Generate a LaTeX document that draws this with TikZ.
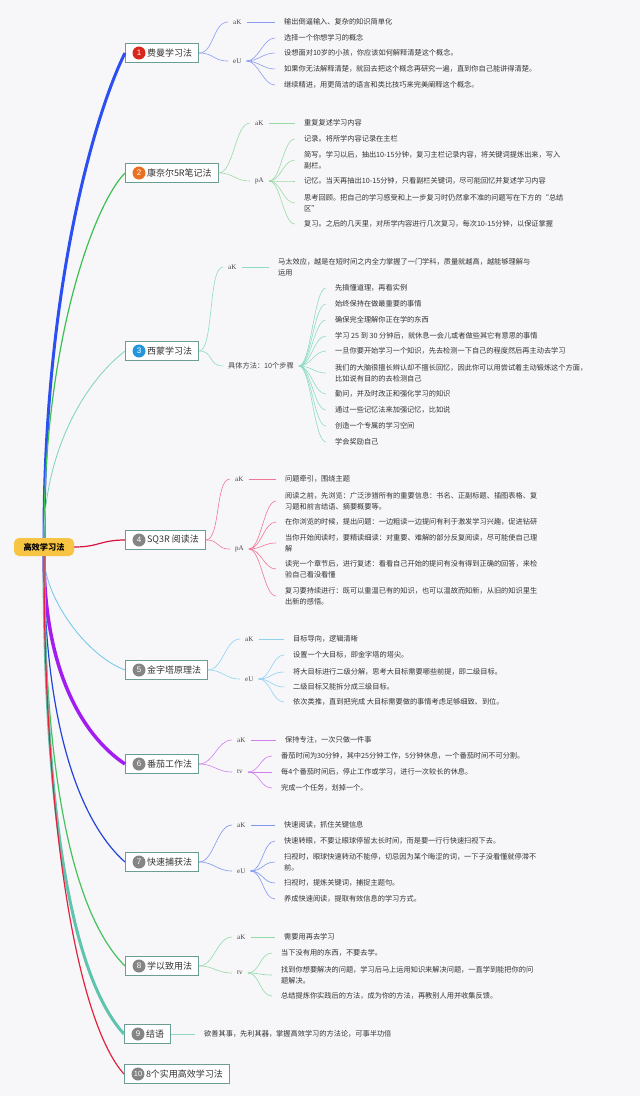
\documentclass[tikz,border=0pt]{standalone}
\usepackage{fontspec}
\setmainfont{Noto Sans CJK SC}
\newfontfamily\labfont{Liberation Serif}
\newfontfamily\numfont{Liberation Sans}
\usepackage{tikz}
\usetikzlibrary{positioning}

\definecolor{bgc}{HTML}{F7F7F9}
\definecolor{rooty}{HTML}{F8C443}
\definecolor{boxc}{HTML}{6A9E94}
\definecolor{txt}{HTML}{333333}
\definecolor{labtxt}{HTML}{444444}
\definecolor{nred}{HTML}{D8261C}
\definecolor{norange}{HTML}{E8701E}
\definecolor{nblue}{HTML}{2596DC}
\definecolor{ngray}{HTML}{858585}
\definecolor{bFey}{HTML}{2B4FF0}
\definecolor{bCor}{HTML}{3CC04F}
\definecolor{bSim}{HTML}{7DD3B8}
\definecolor{bSq}{HTML}{D4163D}
\definecolor{bPyr}{HTML}{6CC6EE}
\definecolor{bTom}{HTML}{A31DF0}
\definecolor{bSpd}{HTML}{2244DD}
\definecolor{bApp}{HTML}{45C35A}
\definecolor{bEnd}{HTML}{5FC3AE}
\definecolor{bTen}{HTML}{E3223F}
\definecolor{sFey}{HTML}{8A9CF2}
\definecolor{sCor}{HTML}{9ADBA4}
\definecolor{sSim}{HTML}{8FDCC4}
\definecolor{sSq}{HTML}{F07896}
\definecolor{sPyr}{HTML}{8ED3F2}
\definecolor{sTom}{HTML}{D27DF2}
\definecolor{sSpd}{HTML}{7E96F0}
\definecolor{sApp}{HTML}{8FDCA8}
\definecolor{sEnd}{HTML}{8FD6C6}

\begin{document}
\begin{tikzpicture}[x=1pt, y=-1pt,
    root/.style={rectangle, rounded corners=5pt, fill=rooty, text=black,
                 font=\bfseries\fontsize{8.2}{10}\selectfont, minimum width=60pt, minimum height=18pt, inner sep=0pt},
    topic/.style={rectangle, anchor=west, draw=boxc, line width=1pt, fill=white, text=txt,
                  font=\fontsize{9}{11}\selectfont, minimum height=19pt, inner xsep=6.5pt, inner ysep=0pt},
    numc/.style={circle, fill=#1, text=white, font=\numfont\fontsize{8}{8}\selectfont,
                 minimum size=13pt, inner sep=0pt},
    lab/.style={anchor=west, text=labtxt, font=\labfont\fontsize{7}{9}\selectfont, inner xsep=5pt, inner ysep=1pt},
    leaf/.style={anchor=west, align=left, text=txt, font=\fontsize{7.2}{11}\selectfont, inner xsep=9pt, inner ysep=1pt},
    main/.style={draw=#1, line width=1.2pt},
    sub/.style={draw=#1, line width=0.6pt},
    xcurve/.style={out=0, in=180, distance=#1},
]
\fill[bgc] (0,0) rectangle (640,1096);
\useasboundingbox (0,0) rectangle (640,1096);

\node[root] (root) at (44,547) {高效学习法};

\node[topic] (t1) at (125,53) {\hspace*{15pt}费曼学习法};
\node[topic] (t2) at (125,173) {\hspace*{15pt}康奈尔5R笔记法};
\node[topic] (t3) at (125,351) {\hspace*{15pt}西蒙学习法};
\node[topic] (t4) at (125,540) {\hspace*{15pt}SQ3R 阅读法};
\node[topic] (t5) at (125,670) {\hspace*{15pt}金字塔原理法};
\node[topic] (t6) at (125,764) {\hspace*{15pt}番茄工作法};
\node[topic] (t7) at (125,862) {\hspace*{15pt}快速捕获法};
\node[topic] (t8) at (125,966) {\hspace*{15pt}学以致用法};
\node[topic] (t9) at (124,1034) {\hspace*{15pt}结语};
\node[topic] (t10) at (124,1074) {\hspace*{15pt}8个实用高效学习法};

\node[numc=nred] (n1) at ([xshift=14pt]t1.west) {1};
\node[numc=norange] (n2) at ([xshift=14pt]t2.west) {2};
\node[numc=nblue] (n3) at ([xshift=14pt]t3.west) {3};
\node[numc=ngray] (n4) at ([xshift=14pt]t4.west) {4};
\node[numc=ngray] (n5) at ([xshift=14pt]t5.west) {5};
\node[numc=ngray] (n6) at ([xshift=14pt]t6.west) {6};
\node[numc=ngray] (n7) at ([xshift=14pt]t7.west) {7};
\node[numc=ngray] (n8) at ([xshift=14pt]t8.west) {8};
\node[numc=ngray] (n9) at ([xshift=14pt]t9.west) {9};
\node[numc=ngray, font=\numfont\fontsize{7.5}{8}\selectfont] (n10) at ([xshift=14pt]t10.west) {10};

\draw[main=bFey, line width=3pt] (root.north) .. controls +(0,-250) and +(-30,60) .. (t1.west);
\draw[main=bCor] (root.north) .. controls +(0,-200) and +(-30,30) .. (t2.west);
\draw[main=bSim, line width=0.8pt] (root.north) .. controls +(0,-80) and +(-45,35) .. (t3.west);
\draw[main=bSq] (root.east) .. controls +(25,0) and +(-25,0) .. (t4.west);
\draw[main=bPyr, line width=0.8pt] (root.south) .. controls +(0,40) and +(-40,-15) .. (t5.west);
\draw[main=bTom, line width=3.5pt] (root.south) .. controls +(0,110) and +(-45,-30) .. (t6.west);
\draw[main=bSpd] (root.south) .. controls +(0,170) and +(-45,-40) .. (t7.west);
\draw[main=bApp] (root.south) .. controls +(0,230) and +(-50,-50) .. (t8.west);
\draw[main=bEnd, line width=3pt] (root.south) .. controls +(0,270) and +(-50,-55) .. (t9.west);
\draw[main=bTen] (root.south) .. controls +(0,280) and +(-45,-50) .. (t10.west);

% 费曼学习法
\node[lab] (l1a) at (228,22) {aK};
\node[lab] (l1b) at (228,61) {eU};
\node[leaf] (f1a) at (275,22) {输出倒逼输入、复杂的知识简单化};
\node[leaf] (f1b) at (275,38) {选择一个你想学习的概念};
\node[leaf] (f1c) at (275,53) {设想面对10岁的小孩，你应该如何解释清楚这个概念。};
\node[leaf] (f1d) at (275,69) {如果你无法解释清楚，就回去把这个概念再研究一遍，直到你自己能讲得清楚。};
\node[leaf] (f1e) at (275,85) {继续精进，用更简洁的语言和类比技巧来完美阐释这个概念。};
\draw[sub=sFey] (t1.east) to[xcurve=15pt] (l1a.west);
\draw[sub=sFey] (t1.east) to[xcurve=15pt] (l1b.west);
\draw[sub=sFey] (l1a.east) -- (f1a.west);
\foreach \f in {f1b,f1c,f1d,f1e}
  \draw[sub=sFey] (l1b.east) to[xcurve=12pt] (\f.west);

% 康奈尔5R笔记法
\node[lab] (l2a) at (250,123) {aK};
\node[lab] (l2b) at (250,181) {pA};
\node[leaf] (f2a) at (295,123) {重复复述学习内容};
\node[leaf] (f2b) at (295,139) {记录。将所学内容记录在主栏};
\node[leaf] (f2c) at (295,160) {简写。学习以后，抽出10-15分钟，复习主栏记录内容，将关键词提炼出来，写入\\副栏。};
\node[leaf] (f2d) at (295,181) {记忆。当天再抽出10-15分钟，只看副栏关键词，尽可能回忆并复述学习内容};
\node[leaf] (f2e) at (295,203) {思考回顾。把自己的学习感受和上一步复习时仍然拿不准的问题写在下方的“总结\\区”};
\node[leaf] (f2f) at (295,224) {复习。之后的几天里，对所学内容进行几次复习，每次10-15分钟，以保证掌握};
\draw[sub=sCor] (t2.east) to[xcurve=15pt] (l2a.west);
\draw[sub=sCor] (t2.east) to[xcurve=15pt] (l2b.west);
\draw[sub=sCor] (l2a.east) -- (f2a.west);
\foreach \f in {f2b,f2c,f2d,f2e,f2f}
  \draw[sub=sCor] (l2b.east) to[xcurve=12pt] (\f.west);

% 西蒙学习法
\node[lab] (l3a) at (223,267) {aK};
\node[lab, font=\fontsize{7.2}{9}\selectfont] (l3b) at (223,366) {具体方法：10个步骤};
\node[leaf] (f3a) at (269,267) {马太效应，越是在短时间之内全力掌握了一门学科，质量就越高，越能够理解与\\运用};
\node[leaf] (f3b) at (326,288) {先搞懂道理，再看实例};
\node[leaf] (f3c) at (326,304) {始终保持在做最重要的事情};
\node[leaf] (f3d) at (326,320) {确保完全理解你正在学的东西};
\node[leaf] (f3e) at (326,336) {学习 25 到 30 分钟后，就休息一会儿或者做些其它有意思的事情};
\node[leaf] (f3f) at (326,351) {一旦你要开始学习一个知识，先去检测一下自己的程度然后再主动去学习};
\node[leaf] (f3g) at (326,373) {我们的大脑很擅长辨认却不擅长回忆，因此你可以用尝试着主动锻炼这个方面，\\比如说有目的的去检测自己};
\node[leaf] (f3h) at (326,394) {勤问，并及时改正和强化学习的知识};
\node[leaf] (f3i) at (326,410) {通过一些记忆法来加强记忆，比如说};
\node[leaf] (f3j) at (326,426) {创造一个专属的学习空间};
\node[leaf] (f3k) at (326,442) {学会奖励自己};
\draw[sub=sSim] (t3.east) to[xcurve=15pt] (l3a.west);
\draw[sub=sSim] (t3.east) to[xcurve=15pt] (l3b.west);
\draw[sub=sSim] (l3a.east) -- (f3a.west);
\foreach \f in {f3b,f3c,f3d,f3e,f3f,f3g,f3h,f3i,f3j,f3k}
  \draw[sub=sSim] (l3b.east) to[xcurve=12pt] (\f.west);

% SQ3R 阅读法
\node[lab] (l4a) at (230,479) {aK};
\node[lab] (l4b) at (230,549) {pA};
\node[leaf] (f4a) at (276,479) {问题牵引，围绕主题};
\node[leaf] (f4b) at (276,501) {阅读之前，先浏览：广泛涉猎所有的重要信息：书名、正副标题、插图表格、复\\习题和前言结语、摘要概要等。};
\node[leaf] (f4c) at (276,522) {在你浏览的时候，提出问题：一边粗读一边提问有利于激发学习兴趣，促进钻研};
\node[leaf] (f4d) at (276,543) {当你开始阅读时，要精读细读：对重要、难解的部分反复阅读，尽可能使自己理\\解};
\node[leaf] (f4e) at (276,569) {读完一个章节后，进行复述：看看自己开始的提问有没有得到正确的回答，来检\\验自己看没看懂};
\node[leaf] (f4f) at (276,596) {复习要持续进行：既可以重温已有的知识，也可以温故而知新，从旧的知识里生\\出新的感悟。};
\draw[sub=sSq] (t4.east) to[xcurve=15pt] (l4a.west);
\draw[sub=sSq] (t4.east) to[xcurve=15pt] (l4b.west);
\draw[sub=sSq] (l4a.east) -- (f4a.west);
\foreach \f in {f4b,f4c,f4d,f4e,f4f}
  \draw[sub=sSq] (l4b.east) to[xcurve=12pt] (\f.west);

% 金字塔原理法
\node[lab] (l5a) at (240,639) {aK};
\node[lab] (l5b) at (240,679) {eU};
\node[leaf] (f5a) at (284,639) {目标导向，逻辑清晰};
\node[leaf] (f5b) at (284,655) {设置一个大目标，即金字塔的塔尖。};
\node[leaf] (f5c) at (284,672) {将大目标进行二级分解，思考大目标需要哪些前提，即二级目标。};
\node[leaf] (f5d) at (284,687) {二级目标又能拆分成三级目标。};
\node[leaf] (f5e) at (284,702) {依次类推，直到把完成 大目标需要做的事情考虑足够细致、到位。};
\draw[sub=sPyr] (t5.east) to[xcurve=15pt] (l5a.west);
\draw[sub=sPyr] (t5.east) to[xcurve=15pt] (l5b.west);
\draw[sub=sPyr] (l5a.east) -- (f5a.west);
\foreach \f in {f5b,f5c,f5d,f5e}
  \draw[sub=sPyr] (l5b.east) to[xcurve=12pt] (\f.west);

% 番茄工作法
\node[lab] (l6a) at (232,740) {aK};
\node[lab] (l6b) at (232,772) {tv};
\node[leaf] (f6a) at (276,740) {保持专注，一次只做一件事};
\node[leaf] (f6b) at (272,756) {番茄时间为30分钟，其中25分钟工作，5分钟休息，一个番茄时间不可分割。};
\node[leaf] (f6c) at (272,772) {每4个番茄时间后，停止工作或学习，进行一次较长的休息。};
\node[leaf] (f6d) at (272,788) {完成一个任务，划掉一个。};
\draw[sub=sTom] (t6.east) to[xcurve=15pt] (l6a.west);
\draw[sub=sTom] (t6.east) to[xcurve=15pt] (l6b.west);
\draw[sub=sTom] (l6a.east) -- (f6a.west);
\foreach \f in {f6b,f6c,f6d}
  \draw[sub=sTom] (l6b.east) to[xcurve=12pt] (\f.west);

% 快速捕获法
\node[lab] (l7a) at (232,825) {aK};
\node[lab] (l7b) at (232,871) {eU};
\node[leaf] (f7a) at (275,825) {快速阅读，抓住关键信息};
\node[leaf] (f7b) at (275,841) {快速转眼，不要让眼球停留太长时间，而是要一行行快速扫视下去。};
\node[leaf] (f7c) at (275,862) {扫视时，眼球快速转动不能停，切忌因为某个晦涩的词，一下子没看懂就停滞不\\前。};
\node[leaf] (f7d) at (275,883) {扫视时，提炼关键词，捕捉主题句。};
\node[leaf] (f7e) at (275,899) {养成快速阅读，提取有效信息的学习方式。};
\draw[sub=sSpd] (t7.east) to[xcurve=15pt] (l7a.west);
\draw[sub=sSpd] (t7.east) to[xcurve=15pt] (l7b.west);
\draw[sub=sSpd] (l7a.east) -- (f7a.west);
\foreach \f in {f7b,f7c,f7d,f7e}
  \draw[sub=sSpd] (l7b.east) to[xcurve=12pt] (\f.west);

% 学以致用法
\node[lab] (l8a) at (232,937) {aK};
\node[lab] (l8b) at (232,973) {tv};
\node[leaf] (f8a) at (275,937) {需要用再去学习};
\node[leaf] (f8b) at (272,953) {当下没有用的东西，不要去学。};
\node[leaf] (f8c) at (272,975) {找到你想要解决的问题，学习后马上运用知识来解决问题，一直学到能把你的问\\题解决。};
\node[leaf] (f8d) at (272,996) {总结提炼你实践后的方法，成为你的方法，再教别人用并收集反馈。};
\draw[sub=sApp] (t8.east) to[xcurve=15pt] (l8a.west);
\draw[sub=sApp] (t8.east) to[xcurve=15pt] (l8b.west);
\draw[sub=sApp] (l8a.east) -- (f8a.west);
\foreach \f in {f8b,f8c,f8d}
  \draw[sub=sApp] (l8b.east) to[xcurve=12pt] (\f.west);

% 结语
\node[leaf] (f9a) at (195,1034) {欲善其事，先利其器，掌握高效学习的方法论，可事半功倍};
\draw[sub=sEnd] (t9.east) -- (f9a.west);
\end{tikzpicture}
\end{document}
